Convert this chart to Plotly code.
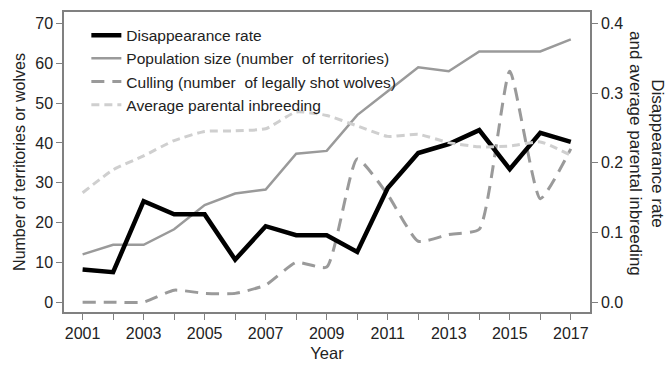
import plotly.graph_objects as go

years = list(range(2001, 2018))
disappearance_rate = [0.047, 0.043, 0.145, 0.126, 0.126, 0.061, 0.109, 0.096, 0.096,
                      0.072, 0.164, 0.214, 0.227, 0.247, 0.191, 0.243, 0.230]
population_size = [12, 14.4, 14.4, 18.3, 24.4, 27.3, 28.3, 37.3, 38, 47, 53, 59, 58, 63, 63, 63, 66]
culling = [0, 0, 0, 3, 2.2, 2.2, 4.3, 10, 8.8, 36, 27, 15.3, 17, 18.3, 58, 26, 38.5]
inbreeding = [0.157, 0.19, 0.21, 0.232, 0.245, 0.246, 0.249, 0.273, 0.268, 0.253,
              0.238, 0.241, 0.229, 0.223, 0.224, 0.230, 0.211]
x_tick_text = [str(y) if y % 2 == 1 else "" for y in years]
left_ticks = [0, 10, 20, 30, 40, 50, 60, 70]
right_ticks = [0.0, 0.1, 0.2, 0.3, 0.4]

FONT = "Arial, 'Liberation Sans', sans-serif"

fig = go.Figure()
fig.add_trace(go.Scatter(x=years, y=disappearance_rate, name="Disappearance rate",
                         mode="lines", yaxis="y2",
                         line=dict(color="black", width=4.5)))
fig.add_trace(go.Scatter(x=years, y=population_size, name="Population size (number  of territories)",
                         mode="lines", line=dict(color="#9a9a9a", width=2.5)))
fig.add_trace(go.Scatter(x=years, y=culling, name="Culling (number  of legally shot wolves)",
                         mode="lines", line=dict(color="#9a9a9a", width=3, dash="13px,8px",
                                                 shape="spline", smoothing=0.5)))
fig.add_trace(go.Scatter(x=years, y=inbreeding, name="Average parental inbreeding",
                         mode="lines", yaxis="y2",
                         line=dict(color="#cfcfcf", width=3, dash="8px,5px",
                                   shape="spline", smoothing=0.5)))

lo, hi = -2.48, 72.9
axis_col = "#808080"
fig.update_layout(
    width=667, height=370,
    margin=dict(l=64, r=77, t=10, b=56),
    paper_bgcolor="white", plot_bgcolor="white",
    font=dict(family=FONT, size=15, color="#222222"),
    showlegend=True,
    legend=dict(x=0.0425, y=0.978, xanchor="left", yanchor="top",
                bgcolor="rgba(0,0,0,0)", font=dict(size=15.5, color="#222222")),
    xaxis=dict(range=[2000.39, 2017.63], tickvals=years, ticktext=x_tick_text,
               ticks="outside", ticklen=6, tickcolor=axis_col, tickwidth=1.2,
               showline=True, linecolor=axis_col, linewidth=1.5, mirror=True,
               showgrid=False, zeroline=False,
               title=dict(text="Year", font=dict(size=16.5), standoff=6),
               tickfont=dict(size=16)),
    yaxis=dict(range=[lo, hi], tickvals=left_ticks,
               ticks="outside", ticklen=6, tickcolor=axis_col, tickwidth=1.2,
               showline=True, linecolor=axis_col, linewidth=1.5, mirror=True,
               showgrid=False, zeroline=False,
               title=dict(text="Number of territories or wolves", font=dict(size=16), standoff=6),
               tickfont=dict(size=16)),
    yaxis2=dict(range=[lo * 0.4 / 70, hi * 0.4 / 70], tickvals=right_ticks, tickformat=".1f",
                overlaying="y", side="right",
                ticks="outside", ticklen=6, tickcolor=axis_col, tickwidth=1.2,
                showline=True, linecolor=axis_col, linewidth=1.5,
                showgrid=False, zeroline=False, tickfont=dict(size=16)),
)
fig.add_annotation(text="Disappearance rate<br>and average parental inbreeding",
                   xref="paper", yref="paper", x=1.0, y=0.5, xanchor="center", yanchor="middle",
                   xshift=57, yshift=9, textangle=90, showarrow=False,
                   font=dict(size=17, color="#222222"))

fig.write_html("out.html")
